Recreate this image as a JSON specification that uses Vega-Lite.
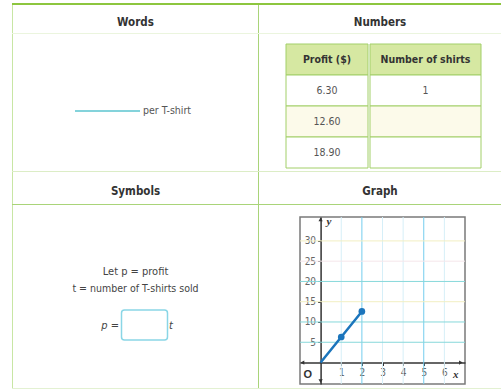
{
  "$schema": "https://vega.github.io/schema/vega-lite/v6.json",
  "padding": {"left": 12, "top": 3, "right": 0, "bottom": 0},
  "background": "white",
  "config": {
    "concat": {"spacing": 0},
    "view": {"stroke": null},
    "axis": {"grid": false},
    "text": {"font": "Liberation Sans Narrow, DejaVu Sans Condensed, sans-serif", "fontSize": 11, "fill": "#444"}
  },
  "data": {"values": [{"k": ""}]},
  "datasets": {
    "table": [
      {"row": "header", "profit": "Profit ($)", "shirts": "Number of shirts"},
      {"row": "1", "profit": "6.30", "shirts": "1"},
      {"row": "2", "profit": "12.60", "shirts": ""},
      {"row": "3", "profit": "18.90", "shirts": ""}
    ],
    "vgrid": [
      {"gx": 1, "tone": "faint"}, {"gx": 2, "tone": "strong"}, {"gx": 3, "tone": "faint"},
      {"gx": 4, "tone": "faint"}, {"gx": 5, "tone": "strong"}, {"gx": 6, "tone": "faint"}
    ],
    "hgrid": [
      {"gy": 5, "tone": "teal"}, {"gy": 10, "tone": "teal"}, {"gy": 15, "tone": "yellow"},
      {"gy": 20, "tone": "teal"}, {"gy": 25, "tone": "pink"}, {"gy": 30, "tone": "yellow"}
    ],
    "profit": [
      {"t": 0, "p": 0}, {"t": 1, "p": 6.3}, {"t": 2, "p": 12.6}
    ],
    "arrows": [
      {"ax": 6.8, "ay": 0, "dir": "r"}, {"ax": -0.88, "ay": 0, "dir": "l"},
      {"ax": 0, "ay": 35.3, "dir": "u"}, {"ax": 0, "ay": -4.6, "dir": "d"}
    ],
    "glabels": [
      {"lx": -0.62, "ly": -3, "t": "O", "kind": "origin"},
      {"lx": 6.55, "ly": -3, "t": "x", "kind": "var"},
      {"lx": 0.4, "ly": 34.6, "t": "y", "kind": "var"}
    ]
  },
  "spacing": 0,
  "vconcat": [
    {"width": 489, "height": 2, "mark": {"type": "rect", "fill": "#8dc63f", "strokeWidth": 0}},
    {"spacing": 0, "hconcat": [
      {"width": 1, "height": 28, "mark": {"type": "rect", "fill": "#c8e6a4", "strokeWidth": 0}},
      {"width": 245, "height": 28, "mark": {"type": "text", "text": "Words", "fontWeight": "bold", "fontSize": 11.5, "fill": "#333", "dy": 4}},
      {"width": 1, "height": 28, "mark": {"type": "rect", "fill": "#a9d479", "strokeWidth": 0}},
      {"width": 242, "height": 28, "mark": {"type": "text", "text": "Numbers", "fontWeight": "bold", "fontSize": 11.5, "fill": "#333", "dy": 4}}
    ]},
    {"width": 489, "height": 1, "mark": {"type": "rect", "fill": "#ebf5de", "strokeWidth": 0}},
    {"spacing": 0, "hconcat": [
      {"width": 1, "height": 137, "mark": {"type": "rect", "fill": "#c8e6a4", "strokeWidth": 0}},
      {"width": 245, "height": 137, "layer": [
        {"mark": {"type": "point", "shape": "M -1 0 H 1", "size": 4225, "filled": false, "stroke": "#5bc5cf", "strokeWidth": 1.5, "opacity": 1, "xOffset": -28, "yOffset": 8.5}, "encoding": {}},
        {"mark": {"type": "text", "text": "per T-shirt", "align": "left", "dx": 7.5, "dy": 8.5, "fontSize": 10.5, "fill": "#555"}, "encoding": {}}
      ]},
      {"width": 1, "height": 137, "mark": {"type": "rect", "fill": "#a9d479", "strokeWidth": 0}},
      {"spacing": 0, "hconcat": [
        {"width": 26, "height": 137, "mark": {"type": "rect", "opacity": 0}},
        {"spacing": 0, "vconcat": [
          {"width": 193, "height": 9, "mark": {"type": "rect", "opacity": 0}},
          {"spacing": 0, "hconcat": [
            {"width": 82, "height": 124, "data": {"name": "table"}, "layer": [
              {"mark": {"type": "rect", "stroke": "#a2cf69", "strokeWidth": 1},
               "encoding": {
                 "y": {"field": "row", "type": "nominal", "sort": null, "axis": null, "scale": {"paddingInner": 0, "paddingOuter": 0}},
                 "fill": {"field": "row", "type": "nominal", "legend": null, "scale": {"domain": ["header", "1", "2", "3"], "range": ["#d6e8a2", "#ffffff", "#fcfaea", "#ffffff"]}}
               }},
              {"transform": [{"filter": "datum.row === 'header'"}],
               "mark": {"type": "text", "fontWeight": "bold", "fontSize": 10.5, "fill": "#333"},
               "encoding": {"y": {"field": "row", "type": "nominal", "sort": null, "axis": null}, "text": {"field": "profit"}}},
              {"transform": [{"filter": "datum.row !== 'header'"}],
               "mark": {"type": "text", "fontSize": 10.5, "fill": "#555"},
               "encoding": {"y": {"field": "row", "type": "nominal", "sort": null, "axis": null}, "text": {"field": "profit"}}}
            ]},
            {"width": 111, "height": 124, "data": {"name": "table"}, "layer": [
              {"mark": {"type": "rect", "stroke": "#a2cf69", "strokeWidth": 1},
               "encoding": {
                 "y": {"field": "row", "type": "nominal", "sort": null, "axis": null, "scale": {"paddingInner": 0, "paddingOuter": 0}},
                 "fill": {"field": "row", "type": "nominal", "legend": null, "scale": {"domain": ["header", "1", "2", "3"], "range": ["#d6e8a2", "#ffffff", "#fcfaea", "#ffffff"]}}
               }},
              {"transform": [{"filter": "datum.row === 'header'"}],
               "mark": {"type": "text", "fontWeight": "bold", "fontSize": 10.5, "fill": "#333"},
               "encoding": {"y": {"field": "row", "type": "nominal", "sort": null, "axis": null}, "text": {"field": "shirts"}}},
              {"transform": [{"filter": "datum.row !== 'header'"}],
               "mark": {"type": "text", "fontSize": 10.5, "fill": "#555"},
               "encoding": {"y": {"field": "row", "type": "nominal", "sort": null, "axis": null}, "text": {"field": "shirts"}}}
            ]}
          ]}
        ]}
      ]}
    ]},
    {"width": 489, "height": 1, "mark": {"type": "rect", "fill": "#dcedc6", "strokeWidth": 0}},
    {"spacing": 0, "hconcat": [
      {"width": 1, "height": 32, "mark": {"type": "rect", "fill": "#c8e6a4", "strokeWidth": 0}},
      {"width": 245, "height": 32, "mark": {"type": "text", "text": "Symbols", "fontWeight": "bold", "fontSize": 11.5, "fill": "#333", "dy": 3.5}},
      {"width": 1, "height": 32, "mark": {"type": "rect", "fill": "#a9d479", "strokeWidth": 0}},
      {"width": 242, "height": 32, "mark": {"type": "text", "text": "Graph", "fontWeight": "bold", "fontSize": 11.5, "fill": "#333", "dy": 3.5}}
    ]},
    {"width": 489, "height": 1, "mark": {"type": "rect", "fill": "#a9d479", "strokeWidth": 0}},
    {"spacing": 0, "hconcat": [
      {"width": 1, "height": 183, "mark": {"type": "rect", "fill": "#c8e6a4", "strokeWidth": 0}},
      {"width": 245, "height": 183, "layer": [
        {"mark": {"type": "text", "text": "Let p = profit", "fontSize": 11, "fill": "#444", "dy": -24.5}, "encoding": {}},
        {"mark": {"type": "text", "text": "t = number of T-shirts sold", "fontSize": 10.5, "fill": "#444", "dy": -7.5}, "encoding": {}},
        {"mark": {"type": "text", "text": "p =", "align": "right", "fontSize": 11, "fill": "#444", "dx": -16.5, "dy": 29, "fontStyle": "italic"}, "encoding": {}},
        {"mark": {"type": "point", "shape": "M -0.87 -0.652 H 0.87 A 0.13 0.13 0 0 1 1 -0.522 V 0.522 A 0.13 0.13 0 0 1 0.87 0.652 H -0.87 A 0.13 0.13 0 0 1 -1 0.522 V -0.522 A 0.13 0.13 0 0 1 -0.87 -0.652 Z", "size": 2116, "filled": false, "fill": "#ffffff", "fillOpacity": 1, "stroke": "#8ad6e6", "strokeWidth": 1.5, "opacity": 1, "xOffset": 9, "yOffset": 28.5}, "encoding": {}},
        {"mark": {"type": "text", "text": "t", "align": "left", "fontSize": 11, "fill": "#444", "dx": 33.5, "dy": 29, "fontStyle": "italic"}, "encoding": {}}
      ]},
      {"width": 1, "height": 183, "mark": {"type": "rect", "fill": "#a9d479", "strokeWidth": 0}},
      {"spacing": 0, "hconcat": [
        {"width": 39, "height": 183, "mark": {"type": "rect", "opacity": 0}},
        {"spacing": 0, "vconcat": [
          {"width": 165, "height": 10, "mark": {"type": "rect", "opacity": 0}},
          {"width": 165, "height": 167, "view": {"stroke": "#7a7a7a", "strokeWidth": 1.5, "fill": "white"},
           "layer": [
             {"data": {"name": "vgrid"}, "mark": {"type": "rule", "strokeWidth": 1},
              "encoding": {
                "x": {"field": "gx", "type": "quantitative", "scale": {"domain": [-1, 7], "nice": false, "zero": false},
                      "axis": {"orient": "bottom", "offset": -21.5, "values": [1, 2, 3, 4, 5, 6], "title": null, "grid": false,
                               "domainColor": "#333", "domainWidth": 1.5, "tickColor": "#333", "tickSize": 3,
                               "labelColor": "#666", "labelFontSize": 10, "labelPadding": 2,
                               "labelFont": "Liberation Sans Narrow, DejaVu Sans Condensed, sans-serif"}},
                "color": {"field": "tone", "type": "nominal", "legend": null,
                          "scale": {"domain": ["faint", "strong", "teal", "yellow", "pink"], "range": ["#d6eff8", "#74cdee", "#86d8da", "#f2efc2", "#f5e6ea"]}}
              }},
             {"data": {"name": "hgrid"}, "mark": {"type": "rule", "strokeWidth": 1},
              "encoding": {
                "y": {"field": "gy", "type": "quantitative", "scale": {"domain": [-5.3, 35.9], "nice": false, "zero": false},
                      "axis": {"orient": "left", "offset": -20.6, "values": [5, 10, 15, 20, 25, 30], "title": null, "grid": false,
                               "domainColor": "#333", "domainWidth": 1.5, "tickColor": "#333", "tickSize": 3,
                               "labelColor": "#666", "labelFontSize": 10, "labelPadding": 2,
                               "labelFont": "Liberation Sans Narrow, DejaVu Sans Condensed, sans-serif"}},
                "color": {"field": "tone", "type": "nominal", "legend": null,
                          "scale": {"domain": ["faint", "strong", "teal", "yellow", "pink"], "range": ["#d6eff8", "#74cdee", "#86d8da", "#f2efc2", "#f5e6ea"]}}
              }},
             {"data": {"name": "arrows"}, "mark": {"type": "point", "filled": true, "size": 18, "fill": "#333", "opacity": 1},
              "encoding": {
                "x": {"field": "ax", "type": "quantitative",
                      "axis": {"orient": "bottom", "offset": -21.5, "values": [1, 2, 3, 4, 5, 6], "title": null, "grid": false,
                               "domainColor": "#333", "domainWidth": 1.5, "tickColor": "#333", "tickSize": 3,
                               "labelColor": "#666", "labelFontSize": 10, "labelPadding": 2,
                               "labelFont": "Liberation Sans Narrow, DejaVu Sans Condensed, sans-serif"}},
                "y": {"field": "ay", "type": "quantitative",
                      "axis": {"orient": "left", "offset": -20.6, "values": [5, 10, 15, 20, 25, 30], "title": null, "grid": false,
                               "domainColor": "#333", "domainWidth": 1.5, "tickColor": "#333", "tickSize": 3,
                               "labelColor": "#666", "labelFontSize": 10, "labelPadding": 2,
                               "labelFont": "Liberation Sans Narrow, DejaVu Sans Condensed, sans-serif"}},
                "shape": {"field": "dir", "type": "nominal", "legend": null,
                          "scale": {"domain": ["r", "l", "u", "d"], "range": ["triangle-right", "triangle-left", "triangle-up", "triangle-down"]}}
              }},
             {"data": {"name": "profit"}, "mark": {"type": "line", "stroke": "#1b75bc", "strokeWidth": 2.5},
              "encoding": {
                "x": {"field": "t", "type": "quantitative",
                      "axis": {"orient": "bottom", "offset": -21.5, "values": [1, 2, 3, 4, 5, 6], "title": null, "grid": false,
                               "domainColor": "#333", "domainWidth": 1.5, "tickColor": "#333", "tickSize": 3,
                               "labelColor": "#666", "labelFontSize": 10, "labelPadding": 2,
                               "labelFont": "Liberation Sans Narrow, DejaVu Sans Condensed, sans-serif"}},
                "y": {"field": "p", "type": "quantitative",
                      "axis": {"orient": "left", "offset": -20.6, "values": [5, 10, 15, 20, 25, 30], "title": null, "grid": false,
                               "domainColor": "#333", "domainWidth": 1.5, "tickColor": "#333", "tickSize": 3,
                               "labelColor": "#666", "labelFontSize": 10, "labelPadding": 2,
                               "labelFont": "Liberation Sans Narrow, DejaVu Sans Condensed, sans-serif"}}
              }},
             {"data": {"name": "profit"}, "transform": [{"filter": "datum.t > 0"}],
              "mark": {"type": "point", "filled": true, "size": 45, "fill": "#1b75bc", "opacity": 1},
              "encoding": {
                "x": {"field": "t", "type": "quantitative",
                      "axis": {"orient": "bottom", "offset": -21.5, "values": [1, 2, 3, 4, 5, 6], "title": null, "grid": false,
                               "domainColor": "#333", "domainWidth": 1.5, "tickColor": "#333", "tickSize": 3,
                               "labelColor": "#666", "labelFontSize": 10, "labelPadding": 2,
                               "labelFont": "Liberation Sans Narrow, DejaVu Sans Condensed, sans-serif"}},
                "y": {"field": "p", "type": "quantitative",
                      "axis": {"orient": "left", "offset": -20.6, "values": [5, 10, 15, 20, 25, 30], "title": null, "grid": false,
                               "domainColor": "#333", "domainWidth": 1.5, "tickColor": "#333", "tickSize": 3,
                               "labelColor": "#666", "labelFontSize": 10, "labelPadding": 2,
                               "labelFont": "Liberation Sans Narrow, DejaVu Sans Condensed, sans-serif"}}
              }},
             {"data": {"name": "glabels"}, "transform": [{"filter": "datum.kind === 'origin'"}],
              "mark": {"type": "text", "fontSize": 11, "fontWeight": "bold", "fill": "#333", "font": "Liberation Sans, Arial, sans-serif"},
              "encoding": {
                "x": {"field": "lx", "type": "quantitative",
                      "axis": {"orient": "bottom", "offset": -21.5, "values": [1, 2, 3, 4, 5, 6], "title": null, "grid": false,
                               "domainColor": "#333", "domainWidth": 1.5, "tickColor": "#333", "tickSize": 3,
                               "labelColor": "#666", "labelFontSize": 10, "labelPadding": 2,
                               "labelFont": "Liberation Sans Narrow, DejaVu Sans Condensed, sans-serif"}},
                "y": {"field": "ly", "type": "quantitative",
                      "axis": {"orient": "left", "offset": -20.6, "values": [5, 10, 15, 20, 25, 30], "title": null, "grid": false,
                               "domainColor": "#333", "domainWidth": 1.5, "tickColor": "#333", "tickSize": 3,
                               "labelColor": "#666", "labelFontSize": 10, "labelPadding": 2,
                               "labelFont": "Liberation Sans Narrow, DejaVu Sans Condensed, sans-serif"}},
                "text": {"field": "t"}
              }},
             {"data": {"name": "glabels"}, "transform": [{"filter": "datum.kind === 'var'"}],
              "mark": {"type": "text", "fontSize": 11, "fontWeight": "bold", "fontStyle": "italic", "fill": "#333", "font": "Liberation Serif, serif"},
              "encoding": {
                "x": {"field": "lx", "type": "quantitative",
                      "axis": {"orient": "bottom", "offset": -21.5, "values": [1, 2, 3, 4, 5, 6], "title": null, "grid": false,
                               "domainColor": "#333", "domainWidth": 1.5, "tickColor": "#333", "tickSize": 3,
                               "labelColor": "#666", "labelFontSize": 10, "labelPadding": 2,
                               "labelFont": "Liberation Sans Narrow, DejaVu Sans Condensed, sans-serif"}},
                "y": {"field": "ly", "type": "quantitative",
                      "axis": {"orient": "left", "offset": -20.6, "values": [5, 10, 15, 20, 25, 30], "title": null, "grid": false,
                               "domainColor": "#333", "domainWidth": 1.5, "tickColor": "#333", "tickSize": 3,
                               "labelColor": "#666", "labelFontSize": 10, "labelPadding": 2,
                               "labelFont": "Liberation Sans Narrow, DejaVu Sans Condensed, sans-serif"}},
                "text": {"field": "t"}
              }}
           ]}
        ]}
      ]}
    ]},
    {"width": 489, "height": 1, "mark": {"type": "rect", "fill": "#e3f1d2", "strokeWidth": 0}}
  ]
}
